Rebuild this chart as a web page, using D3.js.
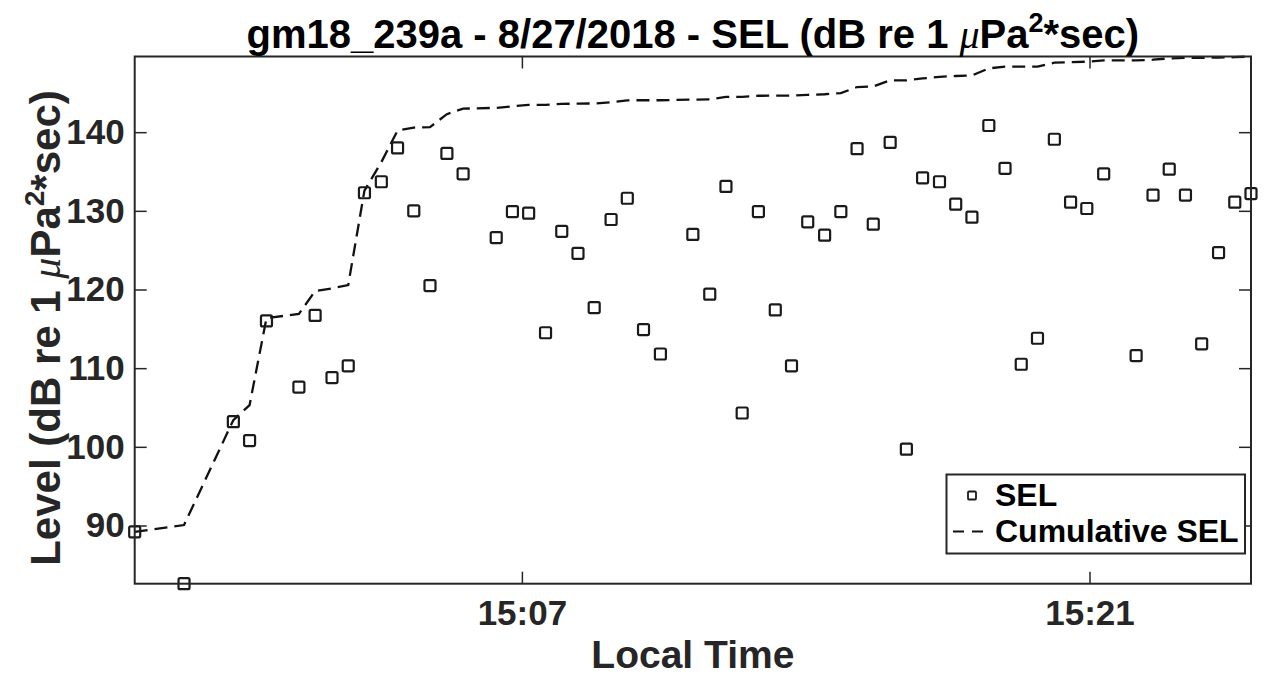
<!DOCTYPE html>
<html>
<head>
<meta charset="utf-8">
<script src="https://cdn.jsdelivr.net/npm/d3@7"></script>
<style>
  html, body { margin: 0; padding: 0; background: #fff; }
  svg { display: block; }
  text { font-family: "Liberation Sans", Arial, Helvetica, sans-serif; font-weight: bold; }
</style>
</head>
<body>
<svg id="chart" width="1264" height="677"></svg>
<script>
// Shot times (local) for each SEL measurement
const shotTimes = [
  "14:57:27", "14:58:40", "14:59:53", "15:00:17", "15:00:42", "15:01:30", "15:01:54",
  "15:02:19", "15:02:43", "15:03:07", "15:03:32", "15:03:56", "15:04:20", "15:04:44",
  "15:05:09", "15:05:33", "15:06:22", "15:06:46", "15:07:10", "15:07:35", "15:07:59",
  "15:08:23", "15:08:47", "15:09:12", "15:09:36", "15:10:00", "15:10:25", "15:11:13",
  "15:11:38", "15:12:02", "15:12:26", "15:12:50", "15:13:15", "15:13:39", "15:14:03",
  "15:14:28", "15:14:52", "15:15:16", "15:15:40", "15:16:05", "15:16:29", "15:16:53",
  "15:17:18", "15:17:42", "15:18:06", "15:18:31", "15:18:55", "15:19:19", "15:19:43",
  "15:20:08", "15:20:32", "15:20:56", "15:21:21", "15:22:09", "15:22:34", "15:22:58",
  "15:23:22", "15:23:46", "15:24:11", "15:24:35", "15:24:59"
];

// Per-shot sound exposure level, dB re 1 µPa²·s
const selValues = [
  89.2, 82.6, 103.2, 100.8, 116.0, 107.6, 116.7,
  108.8, 110.3, 132.3, 133.7, 138.0, 130.0, 120.5,
  137.3, 134.7, 126.6, 129.9, 129.7, 114.5, 127.4,
  124.6, 117.7, 128.9, 131.6, 114.9, 111.8, 127.0,
  119.4, 133.1, 104.3, 129.9, 117.4, 110.3, 128.6,
  126.9, 129.9, 137.9, 128.3, 138.7, 99.7, 134.2,
  133.7, 130.85, 129.2, 140.85, 135.4, 110.5, 113.8,
  139.1, 131.1, 130.3, 134.7, 111.6, 132.0, 135.3,
  132.0, 113.1, 124.7, 131.1, 132.2
];

// Running (cumulative) SEL after each shot, dB re 1 µPa²·s
const cumulativeSel = [
  89.2, 90.06, 103.40, 105.30, 116.35, 116.90, 119.81,
  120.14, 120.57, 132.58, 136.19, 140.20, 140.59, 140.64,
  142.29, 142.99, 143.09, 143.29, 143.48, 143.48, 143.59,
  143.64, 143.65, 143.80, 144.05, 144.06, 144.06, 144.14,
  144.16, 144.49, 144.49, 144.63, 144.64, 144.64, 144.75,
  144.82, 144.96, 145.74, 145.82, 146.59, 146.59, 146.83,
  147.04, 147.14, 147.21, 148.11, 148.34, 148.34, 148.34,
  148.83, 148.90, 148.96, 149.12, 149.12, 149.21, 149.38,
  149.46, 149.46, 149.47, 149.54, 149.62
];

const yTickValues = [90, 100, 110, 120, 130, 140];
const xTickLabels = ["15:07", "15:21"];

const titleMain = "gm18_239a - 8/27/2018 - SEL (dB re 1 ";
const yLabelMain = "Level (dB re 1 ";
const xLabelText = "Local Time";
const legendLabels = ["SEL", "Cumulative SEL"];

const parseTime = d3.timeParse("%H:%M:%S");
const parseTick = d3.timeParse("%H:%M");
const data = shotTimes.map((t, i) => ({ t: parseTime(t), sel: selValues[i], cum: cumulativeSel[i] }));

const svg = d3.select("#chart");
const plot = { left: 134.7, right: 1251, top: 56.5, bottom: 583.7 };
const ink = "#262626";

const x = d3.scaleTime()
  .domain(d3.extent(data, d => d.t))
  .range([plot.left, plot.right]);

const y = d3.scaleLinear()
  .domain([d3.min(selValues), d3.max(cumulativeSel)])
  .range([plot.bottom, plot.top]);

const xTicks = xTickLabels.map(parseTick);
const tickLen = 12;

// Axes (ticks point inward, mirrored on top/right)
const gx = svg.append("g")
  .attr("transform", `translate(0,${plot.bottom})`)
  .call(d3.axisBottom(x).tickValues(xTicks).tickFormat(d3.timeFormat("%H:%M"))
    .tickSizeInner(-tickLen).tickSizeOuter(0).tickPadding(16));
gx.select(".domain").remove();
gx.selectAll("line").attr("stroke", ink).attr("stroke-width", 1.5);
gx.selectAll("text").attr("font-size", 35).attr("fill", ink).attr("dy", "0.71em");

const gxTop = svg.append("g")
  .attr("transform", `translate(0,${plot.top})`)
  .call(d3.axisTop(x).tickValues(xTicks).tickFormat("").tickSizeInner(-tickLen).tickSizeOuter(0));
gxTop.select(".domain").remove();
gxTop.selectAll("line").attr("stroke", ink).attr("stroke-width", 1.5);

const gy = svg.append("g")
  .attr("transform", `translate(${plot.left},0)`)
  .call(d3.axisLeft(y).tickValues(yTickValues).tickSizeInner(-tickLen).tickSizeOuter(0).tickPadding(10));
gy.select(".domain").remove();
gy.selectAll("line").attr("stroke", ink).attr("stroke-width", 1.5);
gy.selectAll("text").attr("font-size", 35).attr("fill", ink);

const gyRight = svg.append("g")
  .attr("transform", `translate(${plot.right},0)`)
  .call(d3.axisRight(y).tickValues(yTickValues).tickFormat("").tickSizeInner(-tickLen).tickSizeOuter(0));
gyRight.select(".domain").remove();
gyRight.selectAll("line").attr("stroke", ink).attr("stroke-width", 1.5);

// Cumulative SEL dashed line
const line = d3.line().x(d => x(d.t)).y(d => y(d.cum));
svg.append("path")
  .datum(data)
  .attr("d", line)
  .attr("fill", "none")
  .attr("stroke", "#111")
  .attr("stroke-width", 2.3)
  .attr("stroke-dasharray", "13,7");

// SEL square markers
const mk = 11;
svg.append("g").selectAll("rect")
  .data(data)
  .join("rect")
  .attr("x", d => x(d.t) - mk / 2)
  .attr("y", d => y(d.sel) - mk / 2)
  .attr("width", mk)
  .attr("height", mk)
  .attr("rx", 1.5)
  .attr("fill", "none")
  .attr("stroke", "#1a1a1a")
  .attr("stroke-width", 2.2);

// Axes box
svg.append("rect")
  .attr("x", plot.left).attr("y", plot.top)
  .attr("width", plot.right - plot.left).attr("height", plot.bottom - plot.top)
  .attr("fill", "none").attr("stroke", ink).attr("stroke-width", 2);

// Title
const title = svg.append("text")
  .attr("x", (plot.left + plot.right) / 2)
  .attr("y", 48)
  .attr("text-anchor", "middle")
  .attr("font-size", 40)
  .attr("fill", "#000");
title.append("tspan").text(titleMain);
title.append("tspan").text("μ").attr("font-family", "Liberation Serif, serif").attr("font-style", "italic").attr("font-weight", "normal");
title.append("tspan").text("Pa");
title.append("tspan").text("2").attr("font-size", 27).attr("dy", -16);
title.append("tspan").text("*sec)").attr("dy", 16);

// X label
svg.append("text")
  .attr("x", (plot.left + plot.right) / 2)
  .attr("y", 668)
  .attr("text-anchor", "middle")
  .attr("font-size", 39)
  .attr("fill", ink)
  .text(xLabelText);

// Y label
const yl = svg.append("text")
  .attr("transform", `translate(60,328) rotate(-90)`)
  .attr("text-anchor", "middle")
  .attr("font-size", 42)
  .attr("fill", ink);
yl.append("tspan").text(yLabelMain);
yl.append("tspan").text("μ").attr("font-family", "Liberation Serif, serif").attr("font-style", "italic").attr("font-weight", "normal");
yl.append("tspan").text("Pa");
yl.append("tspan").text("2").attr("font-size", 28).attr("dy", -16);
yl.append("tspan").text("*sec)").attr("dy", 16);

// Legend
const lg = svg.append("g");
lg.append("rect")
  .attr("x", 946.5).attr("y", 474.5).attr("width", 298.5).attr("height", 79)
  .attr("fill", "#fff").attr("stroke", ink).attr("stroke-width", 2);
lg.append("rect")
  .attr("x", 968).attr("y", 491.5).attr("width", 8).attr("height", 8).attr("rx", 1)
  .attr("fill", "none").attr("stroke", "#1a1a1a").attr("stroke-width", 1.8);
lg.append("line")
  .attr("x1", 953).attr("x2", 983).attr("y1", 531.5).attr("y2", 531.5)
  .attr("stroke", "#111").attr("stroke-width", 2).attr("stroke-dasharray", "11,8");
lg.selectAll("text.lbl")
  .data(legendLabels)
  .join("text")
  .attr("class", "lbl")
  .attr("x", 995)
  .attr("y", (d, i) => 506 + i * 36)
  .attr("font-size", 32)
  .attr("fill", "#000")
  .text(d => d);
</script>
</body>
</html>
